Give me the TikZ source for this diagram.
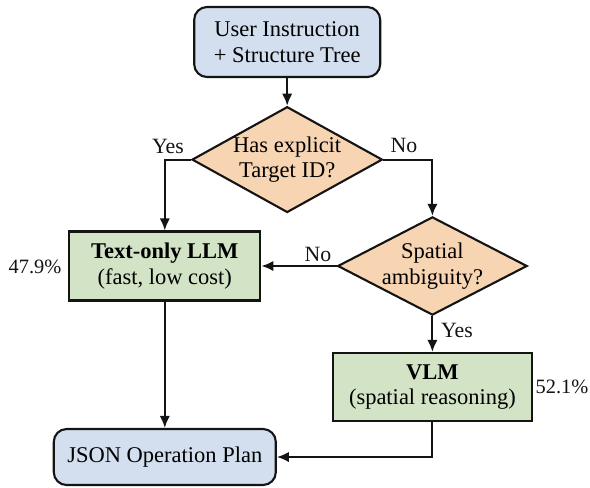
\documentclass[tikz,border=0pt]{standalone}
\usepackage{fontspec}
\setmainfont{Liberation Serif}
\usetikzlibrary{arrows.meta,positioning,shapes.geometric}
\definecolor{edge}{HTML}{141414}
\definecolor{inputfill}{HTML}{D3DFEE}
\definecolor{modelfill}{HTML}{D2E3C6}
\definecolor{askfill}{HTML}{F7D5B3}
\tikzset{
  io/.style={draw=edge, fill=inputfill, rounded corners=0.32cm, line width=1.5pt, inner sep=0pt, align=center, font=\fontsize{16}{18.5}\selectfont},
  model/.style={draw=edge, fill=modelfill, line width=1.5pt, inner sep=0pt, align=center, font=\fontsize{16}{18}\selectfont},
  ask/.style={diamond, aspect=1.8, draw=edge, fill=askfill, line width=1.5pt, inner sep=0pt, align=center, font=\fontsize{16}{18}\selectfont},
  branch/.style={text=edge, font=\fontsize{15.5}{17}\selectfont},
  share/.style={text=edge, font=\fontsize{14.5}{16}\selectfont},
  flow/.style={-{Latex[length=3mm,width=2.6mm]}, draw=edge, line width=1.5pt}
}

\begin{document}
\begin{tikzpicture}
  \useasboundingbox (0,0) rectangle (14.75,-12.175);

  \node[io, minimum width=4.65cm, minimum height=1.75cm] (input) at (7.18,-1.05) {User Instruction\\+ Structure Tree};
  \node[ask, minimum width=4.725cm, minimum height=2.625cm] (hasid) at (7.18,-3.99) {Has explicit\\Target ID?};

  \node[model, minimum width=4.775cm, minimum height=1.725cm] (textllm) at (4.12,-6.65) {\textbf{Text-only LLM}\\(fast, low cost)};
  \node[ask, aspect=1.93, minimum width=4.725cm, minimum height=2.45cm] (spatial) at (10.81,-6.65) {Spatial\\ambiguity?};

  \node[model, minimum width=4.975cm, minimum height=1.7cm] (vlm) at (10.81,-9.675) {\textbf{VLM}\\(spatial reasoning)};
  \node[io, minimum width=5.55cm, minimum height=1.4cm] (plan) at (4.12,-11.425) {JSON Operation Plan};

  \node[branch] (yesid) at (4.2,-3.65) {Yes};
  \node[branch] (noid) at (10.1,-3.625) {No};
  \node[branch] (nospatial) at (7.95,-6.35) {No};
  \node[branch] (yesspatial) at (11.425,-8.25) {Yes};

  \node[share] (textshare) at (0.875,-6.675) {47.9\%};
  \node[share] (vlmshare) at (14.05,-9.675) {52.1\%};

  \draw[flow] (input) -- (hasid);
  \draw[flow] (hasid.west) -| (textllm.north);
  \draw[flow] (hasid.east) -| (spatial.north);
  \draw[flow] (spatial.west) -- (textllm.east);
  \draw[flow] (spatial) -- (vlm);
  \draw[flow] (textllm) -- (plan);
  \draw[flow] (vlm.south) |- (plan.east);
\end{tikzpicture}
\end{document}
